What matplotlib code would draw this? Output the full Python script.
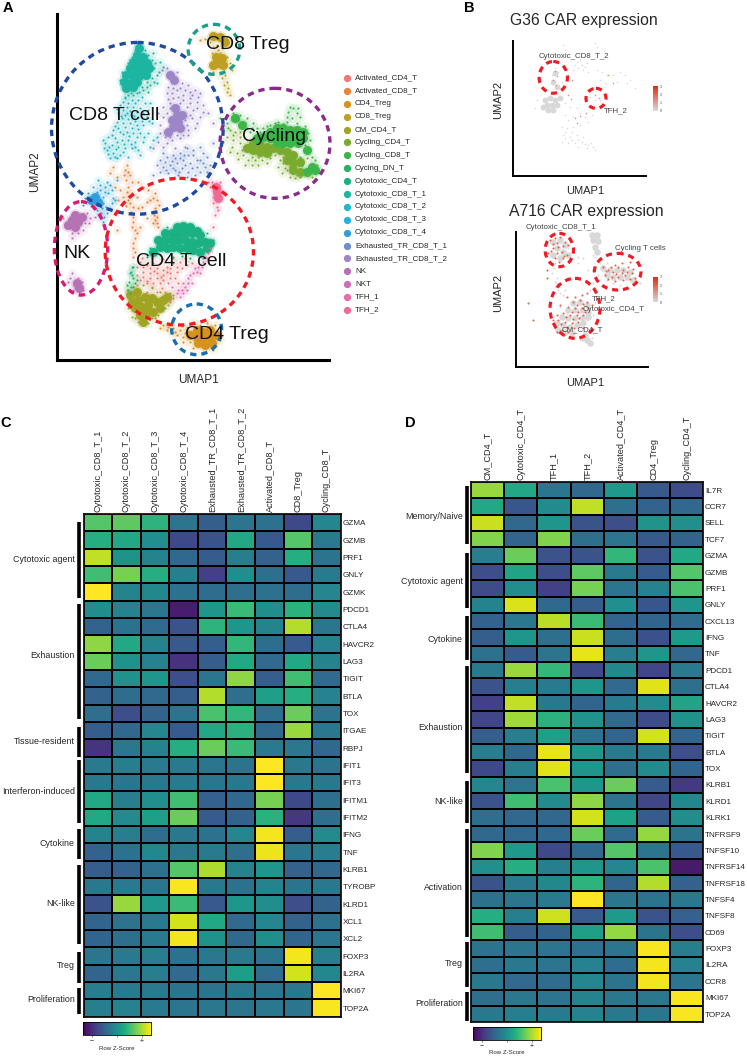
import matplotlib
matplotlib.use("Agg")
import matplotlib.pyplot as plt
import matplotlib.patches as mp
from matplotlib.lines import Line2D
from matplotlib.colors import LinearSegmentedColormap, Normalize
from matplotlib.cm import ScalarMappable
import numpy as np

plt.rcParams['font.family'] = ['Liberation Sans', 'DejaVu Sans']
W, H = 747, 1056
fig = plt.figure(figsize=(W/100, H/100), dpi=100)
TXT = '#262626'

# ---------- Panel A data ----------
legend_names = ['Activated_CD4_T','Activated_CD8_T','CD4_Treg','CD8_Treg','CM_CD4_T','Cycling_CD4_T','Cycling_CD8_T','Cycing_DN_T','Cytotoxic_CD4_T','Cytotoxic_CD8_T_1','Cytotoxic_CD8_T_2','Cytotoxic_CD8_T_3','Cytotoxic_CD8_T_4','Exhausted_TR_CD8_T_1','Exhausted_TR_CD8_T_2','NK','NKT','TFH_1','TFH_2']
legend_colors = ['#EF7B70','#E8843A','#D6931C','#BE9F22','#9FA522','#7BAB2E','#3CB54A','#25B35F','#1CB183','#1CB5A2','#22B8C6','#25B0E0','#2F9FDC','#6C8FD0','#9C86C8','#B573B5','#CC6FB5','#E86BAA','#EE6C93']

activated_cd4_loose = [(420,785),(440,795),(460,790),(480,790),(500,800),(520,790),(540,785),(430,815),(450,820),(470,820),(490,825),(510,820),(530,815),(420,840),(440,850),(460,850),(480,850),(505,850),(440,875),(470,875),(495,875),(555,775),(575,790),(400,770),(430,800),(450,805),(470,805),(490,810),(510,805),(530,800),(545,805),(430,830),(450,835),(470,835),(490,840),(510,835),(412,800),(425,775),(455,775),(490,778),(518,775),(412,825),(410,855),(560,795),(525,835),(535,850),(455,862),(485,865),(462,812),(482,832),(442,842),(500,815)]
activated_cd8_loose = [(380,495),(375,510),(390,525),(378,540),(385,560),(395,580),(385,600),(398,620),(350,530),(345,560),(415,545),(430,560),(445,570),(465,580),(470,600),(440,605),(425,620),(465,625),(470,650),(460,670),(475,680),(400,650),(395,680),(410,700),(400,730),(405,755),(360,570),(355,600),(340,500),(410,590),(440,655),(345,640),(420,680),(350,690),(385,515),(382,575),(390,610),(468,635),(465,660),(450,600),(400,665),(405,715),(372,525),(395,545),(388,588),(378,618),(392,635),(458,595),(478,615),(462,645),(472,668),(405,690),(398,745),(370,590),(330,520),(415,625)]
cd4_treg_dense = [(590,990),(610,995),(630,990),(570,1005),(590,1010),(610,1015),(630,1010),(650,1005),(595,1030),(615,1035),(635,1030)]
cd4_treg_loose = [(480,985),(500,990),(520,985),(540,990),(555,1000),(530,1005),(560,980),(580,965),(620,970),(645,975),(660,1020),(580,1045),(610,1055),(640,1050),(550,1025),(510,975),(490,975),(515,998),(545,978),(600,975),(570,1025),(525,995),(505,980),(565,992),(548,1012)]
cd8_treg_dense = [(640,108),(660,110),(675,125),(648,170),(665,175),(655,190),(640,195),(670,195)]
cd8_treg_loose = [(615,118),(630,125),(650,135),(670,145),(680,170),(635,160),(690,190),(660,215),(640,215),(675,225),(680,245),(685,265),(690,285),(665,235),(600,120),(680,110),(695,210),(655,150),(640,140),(672,255),(682,275),(660,160)]
cm_cd4_dense = [(390,885),(410,875),(395,905),(415,900),(435,890),(455,895),(405,925),(425,920),(445,915),(470,905),(490,900),(420,945),(440,940),(460,935),(480,925),(430,965),(500,890)]
cm_cd4_loose = [(380,870),(520,895),(510,905),(395,950),(455,955),(475,945),(495,925),(415,965),(445,970),(430,855),(455,865),(480,875),(510,880),(400,860),(405,955),(385,925),(465,955),(505,915)]
cycling_cd4_dense = [(760,430),(780,435),(800,440),(740,445),(760,450),(780,455),(800,460),(820,445),(840,450),(860,455),(880,465),(860,480),(880,490),(900,485),(880,510),(900,515)]
cycling_cd4_loose = [(680,410),(700,420),(720,430),(710,460),(730,465),(745,480),(765,480),(785,480),(810,475),(720,395),(705,395),(690,390),(840,480),(835,500),(855,505),(870,530),(900,530),(925,525),(920,475),(860,510),(695,440),(725,450),(755,470),(775,470),(850,490),(670,425),(690,455),(715,478),(735,495),(755,495),(775,495),(800,490),(825,465),(845,520),(885,535),(935,530),(850,470),(870,500),(700,405),(740,420),(720,412),(910,520),(890,525)]
cycling_cd8_dense = [(830,385),(850,385),(870,390),(890,390),(910,395),(810,395),(830,405),(850,405),(870,410),(890,410),(910,415),(790,410),(810,415),(770,415),(830,425),(850,428),(870,430),(895,430),(920,450),(935,500),(920,515),(945,510),(725,375),(705,355)]
cycling_cd8_loose = [(680,370),(670,385),(700,340),(720,345),(740,355),(760,370),(740,385),(880,325),(865,335),(890,340),(875,355),(860,365),(925,400),(915,435),(935,470),(900,470),(950,495),(905,495),(750,395),(770,385),(790,385),(810,375),(835,365),(660,355),(695,360),(685,385),(715,360),(735,370),(755,385),(780,395),(800,378),(825,370),(850,372),(895,325),(870,320),(900,350),(860,350),(930,420),(945,480),(955,515),(890,370),(915,378)]
dn_loose = [(395,825),(388,845),(400,860),(410,840),(385,870),(395,800),(392,815),(405,850),(380,855),(390,880),(400,835),(392,860)]
cyt_cd4_dense = [(460,755),(480,740),(500,745),(520,740),(540,745),(560,745),(580,750),(600,755),(620,745),(475,720),(495,720),(515,720),(535,720),(555,720),(575,725),(595,730),(615,725),(630,730),(495,700),(515,700),(535,700),(555,700),(575,700),(600,705),(530,682),(550,678),(570,682),(590,692)]
cyt_cd4_loose = [(440,770),(610,775),(570,775),(520,770),(640,720),(500,680),(450,745),(620,700),(390,820),(400,800),(545,768),(480,765)]
cyt_cd8_1_dense = [(418,145),(412,165),(428,170),(400,185),(420,188),(440,190),(390,205),(410,208),(430,208),(448,205),(378,225),(398,228),(418,228),(438,225),(372,245),(392,248),(412,245),(378,265),(398,262)]
cyt_cd8_1_loose = [(415,128),(405,150),(435,150),(445,165),(455,180),(462,205),(470,225),(455,235),(440,245),(425,260),(410,280),(365,215),(368,262),(385,285),(450,255),(470,250),(480,185),(490,200),(460,160),(395,170),(385,190),(430,270),(445,275),(400,285),(375,290),(360,240),(465,190),(478,215),(462,245),(440,262),(418,275),(392,280)]
cyt_cd8_2_loose = [(375,295),(395,300),(415,300),(435,310),(360,315),(380,320),(400,320),(420,325),(445,330),(355,340),(375,345),(395,345),(415,350),(440,350),(350,365),(370,370),(390,370),(410,375),(430,375),(455,370),(340,390),(360,395),(380,395),(400,400),(420,400),(445,400),(325,410),(345,415),(365,420),(385,420),(405,425),(430,425),(315,430),(335,435),(355,440),(375,445),(395,445),(320,450),(340,458),(360,465),(330,475),(385,470),(415,450),(460,420),(385,308),(405,310),(370,330),(390,332),(410,335),(430,338),(365,355),(385,358),(405,362),(425,362),(345,378),(375,382),(395,385),(415,388),(368,305),(425,290),(450,310),(350,328),(362,348),(380,338),(402,348),(448,362),(355,385),(368,402),(388,408),(410,410),(432,412),(335,405),(352,425),(372,432),(392,432),(312,445),(328,442),(348,448),(368,455),(352,475),(405,440),(325,462),(308,420)]
cyt_cd8_3_loose = [(300,555),(320,545),(335,570),(310,590),(330,625),(350,540),(280,560),(345,470),(420,465),(450,440),(470,410),(315,575),(295,540),(340,595)]
cyt_cd8_4_dense = [(285,590),(272,600),(295,605)]
cyt_cd8_4_loose = [(255,595),(265,580),(300,570),(315,560),(325,580),(305,625),(320,640),(300,650),(310,665),(290,630),(335,610),(250,615),(280,625),(330,555),(345,600),(292,575),(310,608),(318,620),(302,638),(312,652)]
exh_1_loose = [(480,480),(500,470),(520,465),(540,460),(560,445),(580,465),(600,480),(490,500),(510,495),(530,490),(550,480),(570,490),(590,500),(615,500),(480,515),(505,520),(525,510),(545,505),(565,515),(585,525),(630,495),(620,470),(640,430),(600,440),(560,530),(535,525),(460,525),(630,520),(490,460),(515,482),(540,475),(565,465),(600,515),(575,505),(495,485),(525,475),(552,465),(578,450),(610,460),(610,490),(498,510),(518,505),(538,515),(555,495),(592,480),(620,515),(470,495)]
exh_2_dense = [(510,225),(522,240),(530,345),(515,360),(535,365),(520,380),(540,385),(505,395),(525,325),(545,345)]
exh_2_loose = [(485,210),(500,205),(530,215),(545,250),(565,255),(585,270),(600,280),(530,270),(550,285),(570,295),(590,305),(610,315),(500,280),(520,295),(540,310),(560,320),(580,330),(490,320),(510,325),(555,345),(575,355),(600,350),(490,350),(480,375),(560,375),(585,385),(495,410),(475,425),(515,420),(540,415),(460,445),(565,405),(625,340),(640,370),(490,440),(525,445),(555,440),(510,310),(530,325),(550,300),(570,275),(545,335),(500,340),(555,360),(530,405),(505,260),(520,265),(540,265),(555,270),(575,285),(595,290),(515,280),(535,290),(505,298),(570,310),(590,325),(610,335),(475,340),(480,400),(500,430),(570,345),(565,390),(590,370),(548,405),(510,410)]
nk_dense = [(215,660),(235,665),(205,675),(225,680),(245,650),(225,645),(230,850),(238,865)]
nk_loose = [(190,655),(195,680),(255,670),(270,655),(285,650),(215,700),(235,700),(260,640),(215,820),(245,845),(220,870),(250,870),(210,835),(205,845),(240,885)]
nkt_loose = [(300,640),(250,690),(215,715),(268,668),(235,835),(222,855)]
tfh_1_loose = [(625,760),(610,785),(595,800),(580,820),(565,835),(600,820),(550,850),(535,870),(520,885),(560,870),(540,890),(630,745),(515,860),(575,850),(510,900),(615,770),(620,775),(590,815),(570,825),(555,860),(530,880),(545,870),(605,800),(585,805),(565,850),(548,880)]
tfh_2_dense = [(650,575),(655,595),(648,560)]
tfh_2_loose = [(635,545),(660,545),(650,620),(640,610),(665,575),(655,630),(630,560),(645,645),(640,680),(625,545),(640,590)]

dense_sets = [(cyt_cd4_dense,8),(cm_cd4_dense,4),(cycling_cd4_dense,5),(cycling_cd8_dense,6),(cyt_cd8_1_dense,9),(cyt_cd8_4_dense,12),(exh_2_dense,14),(cd8_treg_dense,3),(cd4_treg_dense,2),(nk_dense,15),(tfh_2_dense,18)]
loose_sets = [(activated_cd4_loose,0),(activated_cd8_loose,1),(cd4_treg_loose,2),(cd8_treg_loose,3),(cm_cd4_loose,4),(cycling_cd4_loose,5),(cycling_cd8_loose,6),(dn_loose,7),(cyt_cd4_loose,8),(cyt_cd8_1_loose,9),(cyt_cd8_2_loose,10),(cyt_cd8_3_loose,11),(cyt_cd8_4_loose,12),(exh_1_loose,13),(exh_2_loose,14),(nk_loose,15),(nkt_loose,16),(tfh_1_loose,17),(tfh_2_loose,18)]

a_circle_centre_x = [412,642,825,243,538,590]
a_circle_centre_y = [385,148,430,745,755,988]
a_circle_w = [515,155,330,160,445,150]
a_circle_h = [515,150,330,280,440,152]
a_circle_col = ['#1F4AA0','#17A08C','#8B2A8B','#D81B72','#EE1C25','#1A6FB0']
a_labels = ['CD8 T cell','CD8 Treg','Cycling','NK','CD4 T cell','CD4 Treg']
a_label_x = [343,743,822,232,545,680]
a_label_y = [347,133,410,760,785,1003]

# ---------- Panel B data ----------
g36_grey_dense = [(315,300),(330,295),(345,300),(360,295),(320,315),(335,315),(350,315),(325,330),(340,330),(310,320),(345,220),(340,245),(350,260)]
g36_grey = [(370,135),(375,150),(465,128),(470,140),(410,185),(425,195),(440,190),(415,205),(430,210),(400,210),(445,215),(470,210),(485,215),(500,225),(520,225),(540,215),(555,225),(570,240),(585,265),(560,250),(530,245),(495,250),(480,240),(345,205),(335,225),(355,215),(365,245),(375,310),(390,320),(410,325),(375,345),(385,360),(400,350),(420,340),(435,350),(365,380),(380,385),(400,380),(420,375),(445,365),(455,345),(370,405),(390,410),(410,405),(430,410),(365,425),(385,430),(405,430),(425,425),(445,435),(460,440),(465,450),(440,445),(415,440),(285,325),(290,300),(465,300),(450,290),(480,300),(420,180),(405,195),(435,200),(375,395),(395,395),(415,420),(375,415),(395,420),(435,432),(452,428)]
g36_red = [(345,212),(350,228),(340,240),(348,255),(385,285),(392,298),(405,355),(420,348),(438,340),(465,285),(478,295),(505,225),(520,250),(410,370),(395,240)]
a716_grey_dense = [(455,705),(470,705),(460,720),(475,722),(465,740),(470,755),(340,725),(360,720),(375,735),(350,745),(370,755),(340,765),(360,775),(385,765),(425,1015),(440,1020),(450,1030),(435,1005),(490,805),(510,810),(530,810),(550,810),(570,815),(500,825),(520,830),(540,830),(560,830),(580,840),(400,910),(420,905),(440,915),(385,930),(405,930),(425,930),(445,935),(365,950),(385,955),(405,955),(425,955),(445,950),(350,970),(370,975),(390,980),(410,975),(430,970),(355,990),(375,995),(395,1000)]
a716_grey = [(335,720),(365,725),(385,745),(345,790),(335,820),(350,835),(345,860),(360,880),(375,870),(415,790),(430,775),(400,760),(455,1015),(600,850),(500,790),(480,790),(465,800),(475,825),(500,840),(520,850),(540,855),(450,870),(460,850),(465,905),(470,925),(465,770),(360,920),(380,940),(400,970),(440,960),(460,945),(420,975),(440,985),(342,805),(352,850),(370,885),(355,870),(345,845),(460,765),(415,770),(445,810)]
a716_red = [(330,720),(345,715),(360,710),(375,725),(355,740),(340,745),(365,755),(380,765),(325,760),(345,775),(370,775),(385,735),(490,800),(505,810),(520,815),(535,800),(550,810),(565,800),(575,820),(495,825),(515,830),(535,830),(555,825),(585,835),(545,790),(525,795),(570,785),(400,905),(420,900),(440,905),(385,920),(405,925),(425,925),(445,925),(370,940),(390,945),(410,945),(430,945),(355,960),(375,965),(395,970),(415,965),(345,980),(365,990),(385,995),(430,985),(350,945),(360,915),(380,890),(265,910),(280,960),(320,810),(330,790),(320,835),(338,732),(352,728),(368,738),(332,752),(350,760),(372,768),(358,785),(498,812),(512,800),(528,822),(545,820),(560,815),(580,808),(505,838),(525,842),(548,840),(570,838),(410,915),(430,912),(395,935),(415,935),(435,935),(378,952),(398,958),(418,955),(362,972),(382,982),(402,985),(352,995),(372,1005),(340,960),(455,915),(405,890),(425,885),(440,880)]
g36_circle_x, g36_circle_y, g36_circle_w, g36_circle_h = [340,468],[232,295],[85,60],[95,60]
a716_circle_x, a716_circle_y, a716_circle_w, a716_circle_h = [358,533,405],[750,815,925],[85,140,150],[100,110,180]
g36_texts = ['Cytotoxic_CD8_T_2','TFH_2']
g36_text_x, g36_text_y = [402,528],[170,333]
a716_texts = ['Cytotoxic_CD8_T_1','Cycling T cells','TFH_2','Cytotoxic_CD4_T','CM_CD4_T']
a716_text_x, a716_text_y = [362,600,492,520,426],[681,745,897,930,989]

# ---------- Panel C data ----------
c_cols = ['Cytotoxic_CD8_T_1','Cytotoxic_CD8_T_2','Cytotoxic_CD8_T_3','Cytotoxic_CD8_T_4','Exhausted_TR_CD8_T_1','Exhausted_TR_CD8_T_2','Activated_CD8_T','CD8_Treg','Cycling_CD8_T']
c_rows = ['GZMA','GZMB','PRF1','GNLY','GZMK','PDCD1','CTLA4','HAVCR2','LAG3','TIGIT','BTLA','TOX','ITGAE','RBPJ','IFIT1','IFIT3','IFITM1','IFITM2','IFNG','TNF','KLRB1','TYROBP','KLRD1','XCL1','XCL2','FOXP3','IL2RA','MKI67','TOP2A']
c_values = [
[.72,.74,.63,.36,.26,.36,.34,.18,.43],
[.60,.58,.47,.18,.22,.58,.24,.72,.38],
[.90,.48,.42,.30,.25,.40,.28,.60,.35],
[.68,.78,.60,.40,.15,.46,.33,.24,.38],
[1.0,.42,.44,.34,.32,.33,.34,.32,.43],
[.46,.41,.37,.03,.50,.66,.46,.62,.45],
[.28,.34,.31,.22,.63,.50,.42,.88,.36],
[.82,.58,.42,.24,.26,.64,.32,.25,.41],
[.76,.48,.41,.10,.26,.58,.31,.58,.42],
[.30,.48,.50,.20,.36,.82,.26,.68,.31],
[.28,.32,.30,.26,.88,.33,.54,.60,.41],
[.33,.20,.28,.35,.70,.64,.33,.76,.35],
[.26,.30,.43,.25,.58,.62,.30,.84,.37],
[.11,.37,.42,.60,.76,.66,.38,.37,.30],
[.38,.40,.38,.38,.36,.35,1.0,.37,.35],
[.37,.36,.37,.38,.36,.37,1.0,.37,.37],
[.58,.40,.47,.68,.27,.30,.78,.18,.33],
[.58,.45,.54,.76,.25,.28,.62,.12,.33],
[.42,.39,.32,.37,.34,.43,.98,.26,.45],
[.28,.34,.44,.37,.38,.33,.97,.36,.39],
[.26,.28,.34,.72,.87,.42,.50,.28,.30],
[.37,.38,.36,.99,.37,.34,.42,.35,.37],
[.22,.84,.52,.66,.24,.50,.46,.20,.28],
[.29,.35,.38,.93,.58,.31,.43,.28,.34],
[.29,.33,.38,.98,.48,.30,.46,.29,.36],
[.36,.38,.39,.34,.37,.38,.35,.98,.40],
[.29,.37,.39,.31,.37,.53,.32,.93,.44],
[.39,.38,.38,.35,.35,.37,.36,.37,1.0],
[.40,.41,.38,.36,.37,.36,.37,.36,.99]]
c_groups = ['Cytotoxic agent','Exhaustion','Tissue-resident','Interferon-induced','Cytokine','NK-like','Treg','Proliferation']
c_group_top = [522,604,727,760,829,865,952,988]
c_group_bot = [598,719,757,823,859,944,983,1014]
c_group_lab = [559,655,742,792,844,904,965,999]

# ---------- Panel D data ----------
d_cols = ['CM_CD4_T','Cytotoxic_CD4_T','TFH_1','TFH_2','Activated_CD4_T','CD4_Treg','Cycling_CD4_T']
d_rows = ['IL7R','CCR7','SELL','TCF7','GZMA','GZMB','PRF1','GNLY','CXCL13','IFNG','TNF','PDCD1','CTLA4','HAVCR2','LAG3','TIGIT','BTLA','TOX','KLRB1','KLRD1','KLRK1','TNFRSF9','TNFSF10','TNFRSF14','TNFRSF18','TNFSF4','TNFSF8','CD69','FOXP3','IL2RA','CCR8','MKI67','TOP2A']
d_values = [
[.84,.58,.36,.30,.52,.24,.19],
[.58,.23,.45,.90,.33,.28,.30],
[.91,.30,.50,.22,.20,.49,.47],
[.80,.29,.80,.33,.36,.24,.28],
[.39,.76,.22,.22,.64,.22,.58],
[.20,.56,.20,.74,.38,.25,.72],
[.19,.46,.15,.78,.36,.41,.70],
[.42,.94,.30,.26,.47,.23,.50],
[.28,.37,.89,.66,.29,.29,.32],
[.26,.50,.33,.91,.32,.21,.52],
[.34,.25,.36,.96,.40,.50,.30],
[.38,.84,.65,.18,.44,.17,.38],
[.22,.39,.38,.50,.31,.95,.33],
[.15,.90,.37,.29,.38,.45,.56],
[.17,.85,.62,.49,.31,.19,.48],
[.26,.39,.54,.34,.29,.93,.29],
[.39,.30,.96,.51,.38,.38,.20],
[.18,.40,.95,.50,.33,.45,.29],
[.43,.36,.70,.50,.76,.25,.13],
[.22,.68,.45,.82,.36,.17,.44],
[.33,.30,.30,.93,.55,.25,.46],
[.30,.30,.30,.76,.31,.83,.35],
[.80,.52,.18,.30,.72,.36,.24],
[.47,.60,.40,.50,.43,.70,.02],
[.22,.38,.44,.63,.29,.88,.27],
[.34,.36,.38,1.0,.36,.35,.37],
[.60,.40,.92,.25,.52,.22,.27],
[.68,.26,.28,.54,.83,.35,.20],
[.35,.36,.36,.34,.36,.99,.40],
[.33,.37,.36,.41,.32,.98,.41],
[.37,.31,.32,.43,.35,.98,.36],
[.33,.37,.36,.42,.37,.37,.99],
[.37,.39,.38,.41,.37,.36,.99]]
d_groups = ['Memory/Naive','Cytotoxic agent','Cytokine','Exhaustion','NK-like','Activation','Treg','Proliferation']
d_group_top = [486,553,616,666,781,829,942,992]
d_group_bot = [544,608,660,773,823,937,987,1021]
d_group_lab = [517,581,639,728,801,888,964,1004]


def ax_px(l, t, r, b):
    return fig.add_axes([l/W, 1-b/H, (r-l)/W, (b-t)/H])

def ftext(x, y, s, **k):
    k.setdefault('color', TXT)
    return fig.text(x/W, 1-y/H, s, **k)

def fline(x0, y0, x1, y1, **k):
    fig.add_artist(Line2D([x0/W, x1/W], [1-y0/H, 1-y1/H], transform=fig.transFigure, **k))

def umap_axes(l, t, r, b, xl, yl, lw):
    ax = ax_px(l, t, r, b)
    ax.set_xlim(*xl); ax.set_ylim(*yl)
    ax.set_xticks([]); ax.set_yticks([])
    ax.patch.set_alpha(0)
    for s in ('top', 'right'):
        ax.spines[s].set_visible(False)
    for s in ('left', 'bottom'):
        ax.spines[s].set_linewidth(lw)
        ax.spines[s].set_color('black')
    return ax

def pts(ax, p, **k):
    a = np.array(p)
    ax.scatter(a[:, 0], a[:, 1], linewidths=0, clip_on=False, **k)

def rings(ax, xs, ys, ws, hs, cols, lw):
    for x, y, w, h, c in zip(xs, ys, ws, hs, cols):
        ax.add_patch(mp.Ellipse((x, y), w, h, fill=False, ec=c, lw=lw, ls=(0, (1.9, 1.5)), clip_on=False, capstyle='butt', zorder=5))

# Panel A
ftext(8, 8, 'A', fontsize=10.5, fontweight='bold', color='black', ha='center', va='center')
axA = umap_axes(56.7, 14, 329.3, 360, (170, 988), (1080, 42), 2.2)
for p, c in loose_sets:
    pts(axA, p, s=45, color=legend_colors[c], alpha=.09, zorder=1)
for p, c in dense_sets:
    pts(axA, p, s=80, color=legend_colors[c], alpha=.25, zorder=2)
    pts(axA, p, s=42, color=legend_colors[c], zorder=2)
for p, c in loose_sets:
    pts(axA, p, s=2.4, color=legend_colors[c], zorder=3)
rings(axA, a_circle_centre_x, a_circle_centre_y, a_circle_w, a_circle_h, a_circle_col, 2.4)
for s, x, y in zip(a_labels, a_label_x, a_label_y):
    axA.text(x, y, s, fontsize=14, ha='center', va='center', color='#111111', zorder=6)
ftext(35, 172, 'UMAP2', fontsize=8.5, rotation=90, ha='center', va='center')
ftext(198, 380, 'UMAP1', fontsize=8.5, ha='center', va='center')
for i, (n, c) in enumerate(zip(legend_names, legend_colors)):
    y = 78 + i*(232/18)
    fig.add_artist(Line2D([346.7/W], [1-y/H], marker='o', ms=4.2, mfc=c, mec=c, ls='', transform=fig.transFigure))
    ftext(355, y, n, fontsize=5.8, ha='left', va='center')

# Panel B
ftext(469, 8, 'B', fontsize=10.5, fontweight='bold', color='black', ha='center', va='center')
ftext(584, 20, 'G36 CAR expression', fontsize=11.3, ha='center', va='center')
ftext(586, 212, 'A716 CAR expression', fontsize=11.3, ha='center', va='center')
axG = umap_axes(513.3, 40.7, 646, 175.7, (220, 618), (527, 122), 1.4)
axV = umap_axes(515.7, 231.7, 648.3, 367.3, (227, 625), (1102, 695), 1.4)
grey = '#D8D8D8'
pts(axG, g36_grey_dense, s=18, color=grey, zorder=2)
pts(axG, g36_grey, s=1.2, color=grey, zorder=2)
pts(axG, g36_red, s=1.2, color='#EE8A70', zorder=3)
pts(axV, a716_grey_dense, s=22, color=grey, zorder=2)
pts(axV, a716_grey, s=2, color=grey, zorder=2)
pts(axV, a716_red, s=2.2, color='#E9634A', zorder=3)
rings(axG, g36_circle_x, g36_circle_y, g36_circle_w, g36_circle_h, ['#EE1C25']*2, 2.3)
rings(axV, a716_circle_x, a716_circle_y, a716_circle_w, a716_circle_h, ['#EE1C25']*3, 2.3)
for s, x, y in zip(g36_texts, g36_text_x, g36_text_y):
    axG.text(x, y, s, fontsize=5.7, ha='center', va='center', color='#444444', zorder=6)
for s, x, y in zip(a716_texts, a716_text_x, a716_text_y):
    axV.text(x, y, s, fontsize=5.7, ha='center', va='center', color='#444444', zorder=6)
for x, y in [(585, 191), (585, 383)]:
    ftext(x, y, 'UMAP1', fontsize=8, ha='center', va='center')
for x, y in [(498, 100), (498, 293)]:
    ftext(x, y, 'UMAP2', fontsize=8, rotation=90, ha='center', va='center')
expr_cmap = LinearSegmentedColormap.from_list('expr', ['#D9D9D9', '#E8280F'])
for t, b in [(86, 110.7), (277, 302)]:
    cax = ax_px(652.7, t, 658, b)
    cb = fig.colorbar(ScalarMappable(Normalize(0, 3), expr_cmap), cax=cax)
    cb.outline.set_visible(False)
    cb.set_ticks([0, 1, 2, 3])
    cax.tick_params(length=0, labelsize=2.6, pad=1.5, labelcolor='#444444')

# Heatmaps
def heat(l, t, r, b, vals, rows, cols):
    ax = ax_px(l, t, r, b)
    m = ax.pcolormesh(np.array(vals), cmap='viridis', vmin=-.05, vmax=1, edgecolors='black', linewidth=1.35)
    ax.invert_yaxis()
    ax.set_xticks(np.arange(len(cols))+.5, cols, rotation=90, fontsize=6.6, color=TXT)
    ax.set_yticks(np.arange(len(rows))+.5, rows, fontsize=5.9, color=TXT)
    ax.tick_params(length=0, top=True, labeltop=True, bottom=False, labelbottom=False, left=False, labelleft=False, right=True, labelright=True, pad=1.2)
    for s in ax.spines.values():
        s.set_linewidth(1.3); s.set_color('#111111')
    return m

def cbar(m, l, t, r, b):
    cax = ax_px(l, t, r, b)
    cb = fig.colorbar(m, cax=cax, orientation='horizontal')
    cb.set_ticks([.087, .475, .864], labels=['−', '', '+'])
    cax.tick_params(length=1.5, width=.4, labelsize=5, pad=.5, colors=TXT)
    cb.outline.set_linewidth(.6)
    ftext((l+r)/2, b+13, 'Row Z-Score', fontsize=4.4, ha='center', va='center')

ftext(6, 423, 'C', fontsize=10.5, fontweight='bold', color='black', ha='center', va='center')
mC = heat(83.5, 514, 340.7, 1016.7, c_values, c_rows, c_cols)
cbar(mC, 83, 1022.3, 150.7, 1035)
for s, a, z, y in zip(c_groups, c_group_top, c_group_bot, c_group_lab):
    fline(79, a, 79, z, color='black', lw=2.6, solid_capstyle='butt')
    ftext(74.7, y, s, fontsize=6.4, ha='right', va='center')

ftext(410, 423, 'D', fontsize=10.5, fontweight='bold', color='black', ha='center', va='center')
mD = heat(471, 482, 703.3, 1022.3, d_values, d_rows, d_cols)
cbar(mD, 472.7, 1027.3, 540.7, 1040)
for s, a, z, y in zip(d_groups, d_group_top, d_group_bot, d_group_lab):
    fline(467, a, 467, z, color='black', lw=2.6, solid_capstyle='butt')
    ftext(462.7, y, s, fontsize=6.4, ha='right', va='center')

fig.savefig('out.png', dpi=100)
